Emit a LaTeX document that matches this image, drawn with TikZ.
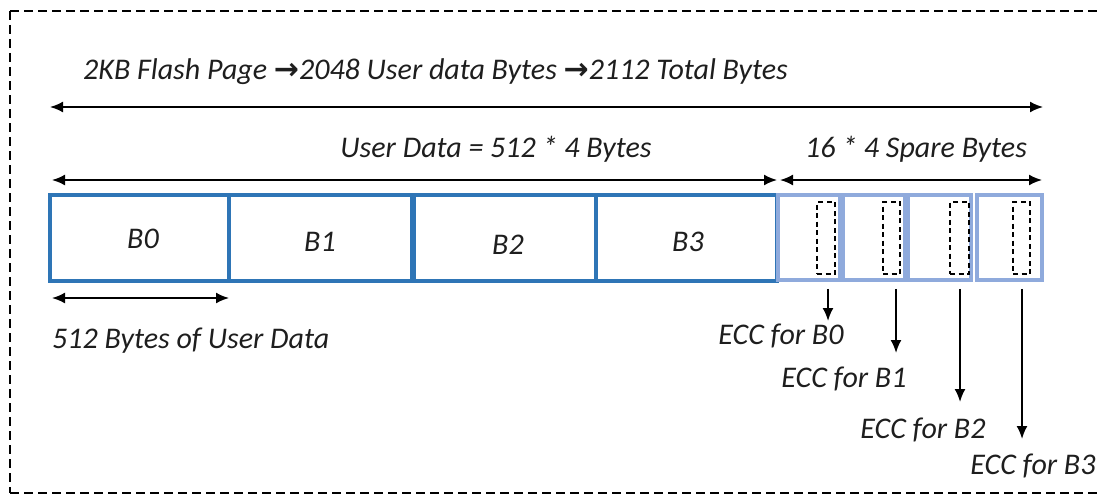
\documentclass[tikz,border=0pt]{standalone}
\usepackage{fontspec}
\setmainfont{Carlito}
\newfontfamily\symfont{DejaVu Sans}
\usetikzlibrary{arrows.meta}
\definecolor{blkblue}{HTML}{2E75B6}
\definecolor{spareblue}{HTML}{8FAADC}
\definecolor{txt}{HTML}{1E1E1E}
\tikzset{
  x=1pt, y=-1pt,
  lbl/.style={font=\fontsize{30}{33}\selectfont\itshape, text=txt, inner sep=0pt},
  blk/.style={draw=blkblue, line width=3.2pt, minimum height=86pt, inner sep=0pt, outer sep=0pt},
  spare/.style={draw=spareblue, line width=3.2pt, minimum height=85pt, inner sep=0pt, outer sep=0pt},
  ecc/.style={draw=black, dash pattern=on 5pt off 3.5pt, line width=1.5pt, minimum height=72pt, inner sep=0pt},
  dim/.style={{Latex[length=13pt,width=11pt]}-{Latex[length=13pt,width=11pt]}, line width=1.9pt},
  down/.style={-{Latex[length=13pt,width=11pt]}, line width=1.9pt},
  outline/.style={dash pattern=on 9pt off 5pt, line width=1.7pt}
}
\begin{document}
\begin{tikzpicture}
\useasboundingbox (0,0) rectangle (1097,495);
% outer dashed frame: top, left and bottom edges
\coordinate (ftl) at (10,11);
\coordinate (fbl) at (10,493);
\coordinate (ftr) at (1097,11);
\coordinate (fbr) at (1097,493);
\draw[outline] (ftl) -- (ftr);
\draw[outline] (ftl) -- (fbl);
\draw[outline] (fbl) -- (fbr);

% headline
\node[lbl, anchor=west] (head) at (83,72) {2KB Flash Page {\symfont\bfseries\upshape →}2048 User data Bytes {\symfont\bfseries\upshape →}2112 Total Bytes};
\coordinate (tl) at (50,107);
\coordinate (tr) at (1043,107);
\draw[dim] (tl) -- (tr);

% user data / spare spans
\node[lbl] (ud) at (496,149) {User Data = 512 * 4 Bytes};
\node[lbl] (sp) at (916,149) {16 * 4 Spare Bytes};
\coordinate (ul) at (52,180);
\coordinate (ur) at (777,180);
\coordinate (sl) at (780,180);
\coordinate (sr) at (1042,180);
\draw[dim] (ul) -- (ur);
\draw[dim] (sl) -- (sr);

% user data blocks
\node[blk, minimum width=179pt] (b0) at (139.5,238) {};
\node[blk, minimum width=183pt] (b1) at (320.5,238) {};
\node[blk, minimum width=182pt] (b2) at (505,238) {};
\node[blk, minimum width=181pt] (b3) at (686.5,238) {};
\node[lbl] (n0) at (143,239) {B0};
\node[lbl] (n1) at (320,242) {B1};
\node[lbl] (n2) at (508,245) {B2};
\node[lbl] (n3) at (688,242) {B3};

% spare blocks
\node[spare, minimum width=62pt] (s0) at (809,237.5) {};
\node[spare, minimum width=62pt] (s1) at (874,237.5) {};
\node[spare, minimum width=63pt] (s2) at (939.5,237.5) {};
\node[spare, minimum width=65pt] (s3) at (1009.5,237.5) {};

% ECC regions inside spare blocks
\node[ecc, minimum width=18pt] (e0) at (826,238) {};
\node[ecc, minimum width=17pt] (e1) at (891.5,238) {};
\node[ecc, minimum width=19pt] (e2) at (959.5,238) {};
\node[ecc, minimum width=17pt] (e3) at (1021.5,238) {};

% single block span
\coordinate (bl) at (52,298);
\coordinate (br) at (229,298);
\draw[dim] (bl) -- (br);
\node[lbl, anchor=west] (one) at (52,341) {512 Bytes of User Data};

% ECC labels
\node[lbl] (l0) at (781,336) {ECC for B0};
\node[lbl] (l1) at (844,379) {ECC for B1};
\node[lbl] (l2) at (923,430) {ECC for B2};
\node[lbl] (l3) at (1033,466) {ECC for B3};

\coordinate (t0) at (828,321);
\coordinate (t1) at (896,353);
\coordinate (t2) at (960,402);
\coordinate (t3) at (1022,439);
\draw[down] ([yshift=-14pt]e0.south -| t0) -- (t0);
\draw[down] ([yshift=-14pt]e1.south -| t1) -- (t1);
\draw[down] ([yshift=-14pt]e2.south -| t2) -- (t2);
\draw[down] ([yshift=-14pt]e3.south -| t3) -- (t3);
\end{tikzpicture}
\end{document}
